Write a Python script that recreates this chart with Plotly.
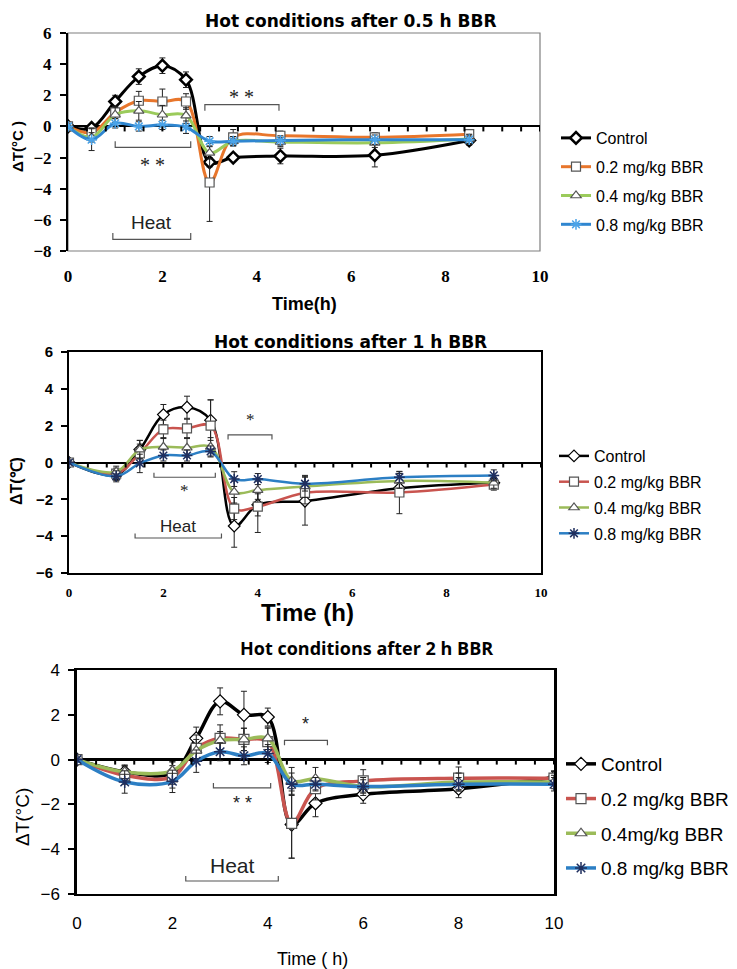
import plotly.graph_objects as go

W, H = 737, 969
OFF = 8  # page offset of the figure inside the browser window

# ---------------- data ----------------
series_names_1 = ["Control", "0.2 mg/kg BBR", "0.4 mg/kg BBR", "0.8 mg/kg BBR"]
series_names_2 = ["Control", "0.2 mg/kg BBR", "0.4 mg/kg BBR", "0.8 mg/kg BBR"]
series_names_3 = ["Control", "0.2 mg/kg BBR", "0.4mg/kg BBR", "0.8 mg/kg BBR"]

t1 = [0, 0.5, 1, 1.5, 2, 2.5, 3, 3.5, 4.5, 6.5, 8.5]
ctrl1 = [0, -0.1, 1.6, 3.2, 3.9, 3.0, -2.3, -2.0, -1.9, -1.85, -0.9]
ctrl1_err = [0, 0.2, 0.4, 0.5, 0.5, 0.5, 0.3, 0.2, 0.5, 0.75, 0.3]
b02_1 = [0, -0.4, 0.9, 1.65, 1.6, 1.6, -3.6, -0.7, -0.6, -0.7, -0.5]
b02_1_err = [0, 0.3, 0.4, 0.6, 0.8, 0.5, 2.5, 0.5, 0.3, 0.3, 0.3]
b04_1 = [0, -0.7, 0.75, 1.0, 0.75, 0.7, -1.7, -0.95, -1.0, -1.05, -0.8]
b04_1_err = [0, 0.3, 0.5, 0.6, 0.6, 0.5, 0.4, 0.3, 0.3, 0.3, 0.3]
b08_1 = [0, -0.85, 0.2, 0.0, 0.1, -0.05, -0.95, -0.95, -0.9, -0.85, -0.85]
b08_1_err = [0, 0.7, 0.3, 0.3, 0.3, 0.4, 0.3, 0.3, 0.3, 0.3, 0.3]

t2 = [0, 1, 1.5, 2, 2.5, 3, 3.5, 4, 5, 7, 9]
ctrl2 = [0, -0.67, 0.7, 2.6, 3.0, 2.3, -3.45, -2.3, -2.1, -1.4, -1.1]
ctrl2_err = [0.1, 0.3, 0.5, 0.55, 0.6, 1.1, 1.15, 0.6, 1.3, 0.4, 0.3]
b02_2 = [0, -0.6, 0.5, 1.8, 1.85, 2.0, -2.5, -2.4, -1.65, -1.63, -1.2]
b02_2_err = [0, 0.3, 0.5, 0.5, 0.5, 1.4, 0.6, 1.4, 0.6, 1.15, 0.3]
b04_2 = [0, -0.5, 0.7, 0.85, 0.8, 0.85, -1.6, -1.5, -1.3, -1.0, -1.1]
b04_2_err = [0, 0.3, 0.5, 0.5, 0.5, 0.5, 0.6, 0.5, 0.6, 0.4, 0.3]
b08_2 = [0, -0.75, -0.05, 0.38, 0.38, 0.6, -0.9, -0.9, -1.15, -0.8, -0.7]
b08_2_err = [0, 0.3, 0.5, 0.3, 0.3, 0.3, 0.4, 0.3, 0.4, 0.3, 0.3]

t3 = [0, 1, 2, 2.5, 3, 3.5, 4, 4.5, 5, 6, 8, 10]
ctrl3 = [0, -0.55, -0.6, 0.95, 2.6, 2.0, 1.9, -2.9, -1.95, -1.55, -1.3, -0.8]
ctrl3_err = [0, 0.3, 0.5, 0.5, 0.6, 1.05, 0.4, 1.5, 0.6, 0.4, 0.4, 0.3]
b02_3 = [0, -0.7, -0.77, 0.5, 0.95, 0.9, 0.8, -2.85, -1.3, -0.95, -0.83, -0.83]
b02_3_err = [0, 0.4, 0.5, 0.6, 0.6, 0.5, 0.6, 1.55, 0.5, 0.5, 0.5, 0.3]
b04_3 = [0, -0.55, -0.5, 0.4, 0.85, 0.9, 0.95, -0.95, -0.85, -1.2, -1.0, -1.0]
b04_3_err = [0, 0.3, 0.4, 0.5, 0.4, 0.5, 0.5, 0.6, 0.5, 0.4, 0.4, 0.3]
b08_3 = [0, -1.0, -0.97, -0.07, 0.35, 0.17, 0.27, -1.1, -1.1, -1.2, -1.1, -1.1]
b08_3_err = [0, 0.5, 0.5, 0.5, 0.4, 0.4, 0.4, 0.5, 0.3, 0.3, 0.3, 0.3]

x_ticks = [0, 2, 4, 6, 8, 10]
y_ticks_1 = [-8, -6, -4, -2, 0, 2, 4, 6]
y_ticks_2 = [-6, -4, -2, 0, 2, 4, 6]
y_ticks_3 = [-6, -4, -2, 0, 2, 4]

titles = ["Hot conditions after 0.5 h BBR", "Hot conditions after 1 h BBR", "Hot conditions after 2 h BBR"]

# significance brackets: (x0, x1, y, tick direction, label, label_y)
brackets_1 = [(1.0, 2.6, -1.35, 1, "* *", -2.5), (2.9, 4.47, 1.4, -1, "* *", 1.9), (0.95, 2.6, -7.25, 1, "Heat", -6.2)]
brackets_2 = [(1.8, 3.1, -0.8, 1, "*", -1.5), (3.37, 4.3, 1.5, -1, "*", 2.35), (1.4, 3.23, -4.1, 1, "Heat", -3.45)]
brackets_3 = [(2.86, 4.06, -1.26, 1, "* *", -1.95), (4.35, 5.25, 0.86, -1, "*", 1.6), (2.28, 4.22, -5.42, 1, "Heat", -4.72)]


def px(x):
    return (x - OFF) / W


def py(y):
    return 1 - (y - OFF) / H


fig = go.Figure()

panels = [
    dict(t=t1, ys=[ctrl1, b02_1, b04_1, b08_1], es=[ctrl1_err, b02_1_err, b04_1_err, b08_1_err],
         names=series_names_1, colors=["#000000", "#E8762C", "#9BCB5B", "#2F86D0"],
         star="#4AA3E8", lw=3, ax="", leg="legend", msize=9, ctrl_lw=2.5),
    dict(t=t2, ys=[ctrl2, b02_2, b04_2, b08_2], es=[ctrl2_err, b02_2_err, b04_2_err, b08_2_err],
         names=series_names_2, colors=["#000000", "#C9544F", "#9BBB59", "#2C7FC4"],
         star="#1F2F5F", lw=2.5, ax="2", leg="legend2", msize=9, ctrl_lw=1.2),
    dict(t=t3, ys=[ctrl3, b02_3, b04_3, b08_3], es=[ctrl3_err, b02_3_err, b04_3_err, b08_3_err],
         names=series_names_3, colors=["#000000", "#C9544F", "#9BBB59", "#2C7FC4"],
         star="#1F2F5F", lw=3.5, ax="3", leg="legend3", msize=10, ctrl_lw=1.2),
]

symbols = ["diamond", "square", "triangle-up", "asterisk-open"]

for p in panels:
    for i in range(4):
        if i == 3:
            marker = dict(symbol=symbols[i], size=p["msize"], color=p["star"],
                          line=dict(color=p["star"], width=1.5))
        elif i == 0:
            marker = dict(symbol=symbols[i], size=p["msize"], color="white",
                          line=dict(color="#000000", width=p["ctrl_lw"]))
        else:
            marker = dict(symbol=symbols[i], size=p["msize"], color="white",
                          line=dict(color="#555555", width=1.2))
        fig.add_trace(go.Scatter(
            x=p["t"], y=p["ys"][i], name=p["names"][i],
            mode="lines+markers",
            line=dict(color=p["colors"][i], width=p["lw"], shape="spline", smoothing=1.0),
            marker=marker,
            error_y=dict(type="data", array=p["es"][i], visible=True, color="#222222", thickness=1, width=3),
            xaxis="x" + p["ax"], yaxis="y" + p["ax"],
            legend=p["leg"], legendgroup=p["leg"] + str(i),
        ))

# ---------------- axes ----------------
doms = [
    dict(x=[px(68), px(540)], y=[py(251), py(33)]),
    dict(x=[px(69), px(541)], y=[py(573), py(352)]),
    dict(x=[px(77), px(554)], y=[py(894), py(670)]),
]
serif_b = dict(family="Liberation Serif", size=17, color="black", weight="bold")
layout = dict(
    width=W, height=H, autosize=False, margin=dict(l=0, r=0, t=0, b=0, pad=0, autoexpand=False),
    plot_bgcolor="white", paper_bgcolor="white", showlegend=True,
)

# panel 1
layout["xaxis"] = dict(domain=doms[0]["x"], range=[0, 10], tickvals=x_ticks, ticks="", showgrid=False,
                       zeroline=False, showline=False, tickfont=serif_b, ticklabelstandoff=13, anchor="y",
                       automargin=False)
layout["yaxis"] = dict(domain=doms[0]["y"], range=[-8, 6], tickvals=y_ticks_1, ticks="outside", ticklen=6,
                       tickwidth=2, tickcolor="black", showgrid=False, zeroline=True, zerolinecolor="black",
                       zerolinewidth=2, showline=True, linecolor="black", linewidth=2,
                       tickfont=serif_b, ticklabelstandoff=5, anchor="x", automargin=False)
# panel 2
layout["xaxis2"] = dict(domain=doms[1]["x"], range=[0, 10], tickvals=x_ticks, ticks="", showgrid=False,
                        zeroline=False, showline=True, linecolor="black", linewidth=2, mirror=True,
                        tickfont=dict(family="Liberation Serif", size=13, color="black", weight="bold"),
                        ticklabelstandoff=6, anchor="y2", automargin=False)
layout["yaxis2"] = dict(domain=doms[1]["y"], range=[-6, 6], tickvals=y_ticks_2, ticks="outside", ticklen=6,
                        tickwidth=2, tickcolor="black", showgrid=False, zeroline=True, zerolinecolor="black",
                        zerolinewidth=2, showline=True, linecolor="black", linewidth=2, mirror=True,
                        tickfont=dict(family="Liberation Sans", size=15, color="black", weight="bold"),
                        ticklabelstandoff=5, anchor="x2", automargin=False)
# panel 3
layout["xaxis3"] = dict(domain=doms[2]["x"], range=[0, 10], tickvals=x_ticks, ticks="", showgrid=False,
                        zeroline=False, showline=True, linecolor="black", linewidth=2, mirror=True,
                        tickfont=dict(family="Liberation Sans", size=17, color="black"),
                        ticklabelstandoff=13, anchor="y3", automargin=False)
layout["yaxis3"] = dict(domain=doms[2]["y"], range=[-6, 4], tickvals=y_ticks_3, ticks="outside", ticklen=6,
                        tickwidth=2, tickcolor="black", showgrid=False, zeroline=True, zerolinecolor="black",
                        zerolinewidth=2.5, showline=True, linecolor="black", linewidth=2.5, mirror=True,
                        tickfont=dict(family="Liberation Sans", size=17, color="black"),
                        ticklabelstandoff=5, anchor="x3", automargin=False)

# legends
layout["legend"] = dict(x=px(556), y=py(121), xanchor="left", yanchor="top", bgcolor="rgba(0,0,0,0)",
                        font=dict(family="Liberation Sans", size=16, color="black"), tracegroupgap=5,
                        itemwidth=30)
layout["legend2"] = dict(x=px(554), y=py(439), xanchor="left", yanchor="top", bgcolor="rgba(0,0,0,0)",
                         font=dict(family="Liberation Sans", size=16, color="black"), tracegroupgap=2,
                         itemwidth=30)
layout["legend3"] = dict(x=px(561), y=py(745), xanchor="left", yanchor="top", bgcolor="rgba(0,0,0,0)",
                         font=dict(family="Liberation Sans", size=19, color="black"), tracegroupgap=7,
                         itemwidth=30)

fig.update_layout(**layout)

# panel 1 gray frame (top/right/bottom)
fig.add_shape(type="rect", xref="paper", yref="paper", x0=doms[0]["x"][0], x1=doms[0]["x"][1],
              y0=doms[0]["y"][0], y1=doms[0]["y"][1], line=dict(color="#7F7F7F", width=1.2), layer="below")

# minor ticks along the zero line (every 0.4 h)
for ax in ["", "2", "3"]:
    k = 1
    while k * 0.4 < 10.01:
        xv = round(k * 0.4, 2)
        fig.add_shape(type="line", xref="x" + ax, yref="y" + ax, ysizemode="pixel", yanchor=0,
                      x0=xv, x1=xv, y0=0, y1=-5, line=dict(color="black", width=2))
        k += 1

# brackets and labels
fonts_lbl = [
    dict(star=dict(family="Liberation Serif", size=20, color="#222222"), heat=dict(family="Liberation Sans", size=19, color="#222222"), h=0.4),
    dict(star=dict(family="Liberation Serif", size=17, color="#222222"), heat=dict(family="Liberation Sans", size=17, color="#222222"), h=0.25),
    dict(star=dict(family="Liberation Sans", size=18, color="#222222"), heat=dict(family="Liberation Sans", size=21, color="#222222"), h=0.22),
]
for ax, brs, fl in [("", brackets_1, fonts_lbl[0]), ("2", brackets_2, fonts_lbl[1]), ("3", brackets_3, fonts_lbl[2])]:
    for (x0, x1, yb, d, lbl, ly) in brs:
        hh = fl["h"] * d
        fig.add_shape(type="path", xref="x" + ax, yref="y" + ax,
                      path=f"M {x0},{yb + hh} L {x0},{yb} L {x1},{yb} L {x1},{yb + hh}",
                      line=dict(color="#555555", width=1.2))
        fig.add_annotation(x=(x0 + x1) / 2, y=ly, xref="x" + ax, yref="y" + ax, text=lbl,
                           xanchor="center", yanchor="middle",
                           showarrow=False, font=fl["heat"] if lbl == "Heat" else fl["star"])


def label(xp, yp, text, font, angle=0, yanchor="middle"):
    fig.add_annotation(x=px(xp), y=py(yp), xref="paper", yref="paper", text=text, showarrow=False,
                       xanchor="center", yanchor=yanchor, textangle=angle, font=font)


# titles
label(350, OFF + 1, titles[0], dict(family="DejaVu Sans", size=17, color="black", weight="bold"), yanchor="top")
label(350, 342, titles[1], dict(family="DejaVu Sans", size=17, color="black", weight="bold"))
label(366, 648, titles[2], dict(family="Open Sans", size=18, color="black", weight="bold"))

# axis titles
label(304, 304, "Time(h)", dict(family="Liberation Sans", size=18, color="black", weight="bold"))
label(307, 612, "Time (h)", dict(family="Liberation Sans", size=24, color="black", weight="bold"))
label(312, 959, "Time ( h)", dict(family="Liberation Sans", size=18, color="black"))
label(17, 147, "ΔT(°C )", dict(family="Liberation Sans", size=15, color="black", weight="bold"), -90)
label(17, 481, "ΔT(℃)", dict(family="Liberation Sans", size=16, color="black", weight="bold"), -90)
label(22, 817, "ΔT(°C)", dict(family="Liberation Sans", size=19, color="black"), -90)

fig.write_html("out.html")
